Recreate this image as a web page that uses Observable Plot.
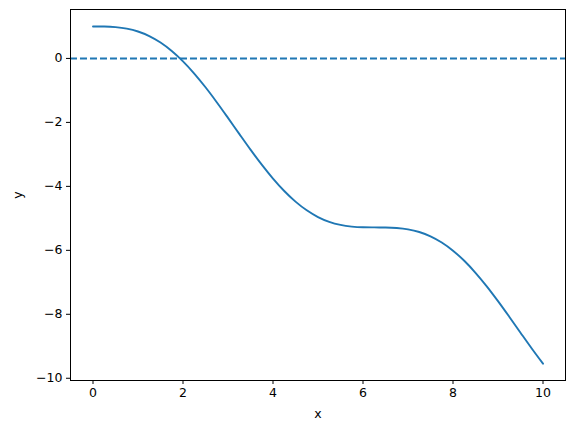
<!DOCTYPE html>
<html><head><meta charset="utf-8">
<script src="https://cdn.jsdelivr.net/npm/d3@7"></script>
<script src="https://cdn.jsdelivr.net/npm/@observablehq/plot@0.6"></script>
<style>body{margin:0;background:#fff}</style>
</head><body><div id="chart"></div>
<script>
const xs = [0,0.25,0.5,0.75,1,1.25,1.5,1.75,2,2.25,2.5,2.75,3,3.25,3.5,3.75,4,4.25,4.5,4.75,5,5.25,5.5,5.75,6,6.25,6.5,6.75,7,7.25,7.5,7.75,8,8.25,8.5,8.75,9,9.25,9.5,9.75,10];
const ys = [1,0.9974,0.9794,0.9316,0.8415,0.699,0.4975,0.234,-0.0907,-0.4719,-0.9015,-1.3683,-1.8589,-2.3582,-2.8508,-3.3216,-3.7568,-4.145,-4.4775,-4.7493,-4.9589,-5.1089,-5.2055,-5.2583,-5.2794,-5.2832,-5.2849,-5.3,-5.343,-5.4269,-5.562,-5.7554,-6.0106,-6.3272,-6.7015,-7.1253,-7.5879,-8.0757,-8.5752,-9.0695,-9.544];
const xTicks = [0,2,4,6,8,10];
const yTicks = [0,-2,-4,-6,-8,-10];
const refY = [0];
const data = xs.map((x,i)=>({x, y: ys[i]}));
const color = "#1f77b4";
const chart = Plot.plot({
  width: 575, height: 432,
  marginLeft: 70, marginRight: 10, marginTop: 9, marginBottom: 52,
  style: {fontFamily: "DejaVu Sans", fontSize: "12.5px", color: "#000", background: "#fff"},
  x: {domain: [-0.5, 10.5], ticks: xTicks, tickSize: 4, tickPadding: 4, label: "x", labelAnchor: "center", labelArrow: "none", labelOffset: 37},
  y: {domain: [-10.07, 1.53], ticks: yTicks, tickSize: 4, tickPadding: 4, label: "y", labelAnchor: "center", labelArrow: "none", labelOffset: 57},
  marks: [
    Plot.ruleY(refY, {stroke: color, strokeWidth: 1.9, strokeDasharray: "7,3"}),
    Plot.line(data, {x: "x", y: "y", stroke: color, strokeWidth: 1.9, curve: "monotone-x"}),
    Plot.frame({stroke: "#000", strokeWidth: 1})
  ]
});
document.getElementById("chart").appendChild(chart);
</script>
</body></html>
